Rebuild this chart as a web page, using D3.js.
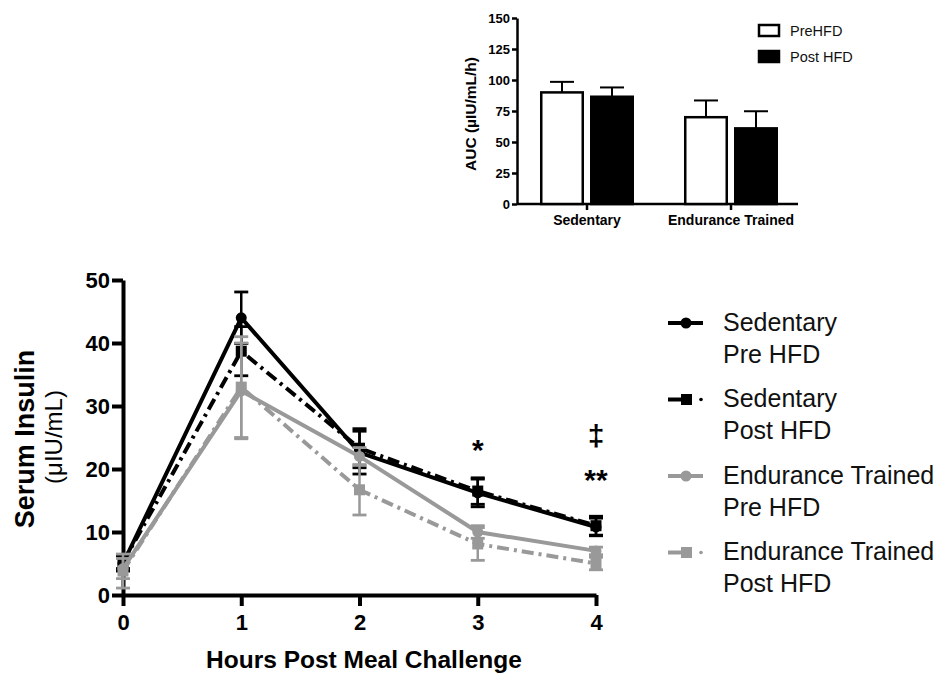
<!DOCTYPE html>
<html>
<head>
<meta charset="utf-8">
<script src="https://cdn.jsdelivr.net/npm/d3@7"></script>
<style>
  body { margin: 0; background: #fff; }
  svg { font-family: "Liberation Sans", Arial, sans-serif; }
</style>
</head>
<body>
<svg id="chart" width="938" height="675"></svg>
<script>
// ---- data ----
const hours = [0, 1, 2, 3, 4];
const sedPre = [5.0, 44.0, 22.6, 16.2, 10.8];
const sedPreErr = [1.2, 4.1, 3.4, 2.2, 1.4];
const sedPost = [5.2, 38.7, 23.3, 16.5, 11.0];
const sedPostErr = [1.0, 3.9, 3.1, 2.1, 1.5];
const etPre = [4.2, 32.4, 22.0, 10.0, 7.0];
const etPreErr = [1.6, 7.6, 1.4, 1.0, 0.6];
const etPost = [3.8, 33.0, 16.7, 8.1, 5.0];
const etPostErr = [2.7, 8.0, 4.0, 2.6, 1.0];
const yTicks = [0, 10, 20, 30, 40, 50];

const aucGroups = ["Sedentary", "Endurance Trained"];
const aucPre = [90.0, 70.0];
const aucPreErr = [8.5, 13.5];
const aucPost = [86.5, 61.0];
const aucPostErr = [7.5, 13.8];
const aucTicks = [0, 25, 50, 75, 100, 125, 150];

const gray = "#999999";
const series = [
  { name: ["Sedentary", "Pre HFD"], vals: sedPre, err: sedPreErr, color: "#000", shape: "circle", dash: null },
  { name: ["Sedentary", "Post HFD"], vals: sedPost, err: sedPostErr, color: "#000", shape: "square", dash: "12,5,3,5" },
  { name: ["Endurance Trained", "Pre HFD"], vals: etPre, err: etPreErr, color: gray, shape: "circle", dash: null },
  { name: ["Endurance Trained", "Post HFD"], vals: etPost, err: etPostErr, color: gray, shape: "square", dash: "12,5,3,5" }
];

const svg = d3.select("#chart");

// ---- main line chart ----
const x = d3.scaleLinear().domain([0, 4]).range([123, 596]);
const y = d3.scaleLinear().domain([0, 50]).range([595, 280]);

const xAxis = svg.append("g")
  .attr("transform", "translate(0,595)")
  .call(d3.axisBottom(x).tickValues(hours).tickSize(11).tickSizeOuter(0).tickFormat(d3.format("d")));
const yAxis = svg.append("g")
  .attr("transform", "translate(123,0)")
  .call(d3.axisLeft(y).tickValues(yTicks).tickSize(11).tickSizeOuter(0));

[xAxis, yAxis].forEach(g => {
  g.select(".domain").attr("stroke", "#000").attr("stroke-width", 4);
  g.selectAll(".tick line").attr("stroke", "#000").attr("stroke-width", 4);
  g.selectAll(".tick text")
    .attr("font-family", "Liberation Sans, Arial, sans-serif")
    .attr("font-size", 22).attr("font-weight", "bold").attr("fill", "#000");
});
xAxis.selectAll(".tick text").attr("dy", "0.95em");
yAxis.selectAll(".tick text").attr("x", -13);

const line = d3.line().x((d, i) => x(hours[i])).y(d => y(d));

series.forEach(s => {
  const g = svg.append("g");
  g.append("path")
    .attr("d", line(s.vals))
    .attr("fill", "none")
    .attr("stroke", s.color)
    .attr("stroke-width", 4)
    .attr("stroke-dasharray", s.dash);
  // error bars
  s.vals.forEach((v, i) => {
    const cx = x(hours[i]);
    const top = y(v + s.err[i]), bot = y(v - s.err[i]);
    g.append("line").attr("x1", cx).attr("x2", cx).attr("y1", top).attr("y2", bot)
      .attr("stroke", s.color).attr("stroke-width", 2.5);
    [top, bot].forEach(yy => g.append("line")
      .attr("x1", cx - 7).attr("x2", cx + 7).attr("y1", yy).attr("y2", yy)
      .attr("stroke", s.color).attr("stroke-width", 2.8));
    if (s.shape === "circle") {
      g.append("circle").attr("cx", cx).attr("cy", y(v)).attr("r", 5.5).attr("fill", s.color);
    } else {
      g.append("rect").attr("x", cx - 5.5).attr("y", y(v) - 5.5)
        .attr("width", 11).attr("height", 11).attr("fill", s.color);
    }
  });
});

// significance marks
svg.append("text").attr("x", x(3)).attr("y", 460).attr("text-anchor", "middle")
  .attr("font-size", 30).attr("font-weight", "bold").text("*");
svg.append("text").attr("x", x(4)).attr("y", 446).attr("text-anchor", "middle")
  .attr("font-size", 30).attr("font-weight", "bold").text("‡");
svg.append("text").attr("x", x(4)).attr("y", 490).attr("text-anchor", "middle")
  .attr("font-size", 30).attr("font-weight", "bold").text("**");

// axis titles
svg.append("text").attr("x", 364).attr("y", 668).attr("text-anchor", "middle")
  .attr("font-size", 24.5).attr("font-weight", "bold").text("Hours Post Meal Challenge");
svg.append("text").attr("transform", "translate(34,439) rotate(-90)").attr("text-anchor", "middle")
  .attr("font-size", 27).attr("font-weight", "bold").text("Serum Insulin");
svg.append("text").attr("transform", "translate(62,437) rotate(-90)").attr("text-anchor", "middle")
  .attr("font-size", 24).text("(μIU/mL)");

// legend
const legend = svg.append("g");
series.forEach((s, i) => {
  const ly = 323 + i * 76.5;
  const row = legend.append("g");
  if (s.dash) {
    row.append("line").attr("x1", 668).attr("x2", 692).attr("y1", ly).attr("y2", ly)
      .attr("stroke", s.color).attr("stroke-width", 4);
    row.append("circle").attr("cx", 701).attr("cy", ly).attr("r", 1.8).attr("fill", s.color);
    row.append("rect").attr("x", 681).attr("y", ly - 5.5).attr("width", 11).attr("height", 11).attr("fill", s.color);
  } else {
    row.append("line").attr("x1", 668).attr("x2", 703).attr("y1", ly).attr("y2", ly)
      .attr("stroke", s.color).attr("stroke-width", 4);
    row.append("circle").attr("cx", 686).attr("cy", ly).attr("r", 5.5).attr("fill", s.color);
  }
  row.append("text").attr("x", 723).attr("y", ly + 7.5).attr("font-size", 25).attr("fill", "#111").text(s.name[0]);
  row.append("text").attr("x", 723).attr("y", ly + 39.5).attr("font-size", 25).attr("fill", "#111").text(s.name[1]);
});

// ---- inset AUC bar chart ----
const bx = d3.scaleBand().domain(aucGroups).range([515, 803]);
const by = d3.scaleLinear().domain([0, 150]).range([204, 18]);
const barW = 44, barGap = 6;

const bxAxis = svg.append("g").attr("transform", "translate(0,204)")
  .call(d3.axisBottom(bx).tickSize(6).tickSizeOuter(0));
const byAxis = svg.append("g").attr("transform", "translate(517,0)")
  .call(d3.axisLeft(by).tickValues(aucTicks).tickSize(5).tickSizeOuter(0));
bxAxis.select(".domain").attr("d", "M517,0H798");
[bxAxis, byAxis].forEach(g => {
  g.select(".domain").attr("stroke", "#000").attr("stroke-width", 2.5);
  g.selectAll(".tick line").attr("stroke", "#000").attr("stroke-width", 2.5);
  g.selectAll(".tick text")
    .attr("font-family", "Liberation Sans, Arial, sans-serif")
    .attr("font-weight", "bold").attr("fill", "#000");
});
byAxis.selectAll(".tick text").attr("font-size", 13).attr("x", -7);
bxAxis.selectAll(".tick text").attr("font-size", 14).attr("dy", "0.95em").attr("y", 8);

const bars = svg.append("g");
aucGroups.forEach((gname, i) => {
  const c = bx(gname) + bx.bandwidth() / 2;
  const items = [
    { v: aucPre[i], e: aucPreErr[i], x0: c - barGap / 2 - barW, fill: "#fff" },
    { v: aucPost[i], e: aucPostErr[i], x0: c + barGap / 2, fill: "#000" }
  ];
  items.forEach(b => {
    const mid = b.x0 + barW / 2;
    bars.append("line").attr("x1", mid).attr("x2", mid).attr("y1", by(b.v)).attr("y2", by(b.v + b.e))
      .attr("stroke", "#000").attr("stroke-width", 2);
    bars.append("line").attr("x1", mid - 12).attr("x2", mid + 12).attr("y1", by(b.v + b.e)).attr("y2", by(b.v + b.e))
      .attr("stroke", "#000").attr("stroke-width", 2);
    bars.append("rect").attr("x", b.x0 + 1.25).attr("y", by(b.v))
      .attr("width", barW - 2.5).attr("height", by(0) - by(b.v))
      .attr("fill", b.fill).attr("stroke", "#000").attr("stroke-width", 2.5);
  });
});

svg.append("text").attr("transform", "translate(476,114) rotate(-90)").attr("text-anchor", "middle")
  .attr("font-size", 15.5).attr("font-weight", "bold").text("AUC (µIU/mL/h)");

// inset legend
const bl = svg.append("g");
[["PreHFD", "#fff"], ["Post HFD", "#000"]].forEach((d, i) => {
  const ly = 25 + i * 26;
  bl.append("rect").attr("x", 759).attr("y", ly).attr("width", 20).attr("height", 11)
    .attr("fill", d[1]).attr("stroke", "#000").attr("stroke-width", 2.5);
  bl.append("text").attr("x", 790).attr("y", ly + 10.5).attr("font-size", 14.5).attr("fill", "#111").text(d[0]);
});
</script>
</body>
</html>
